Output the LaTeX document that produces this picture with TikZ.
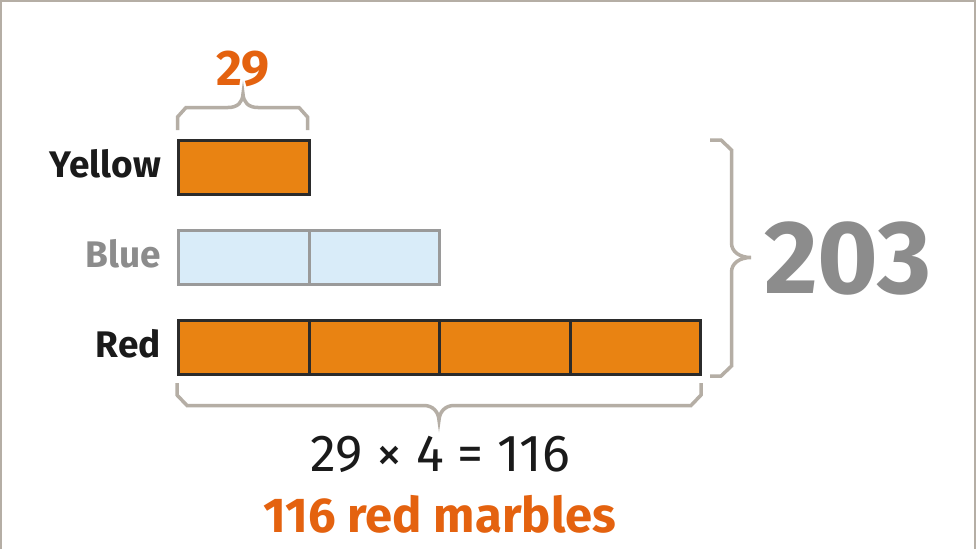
\documentclass[tikz,border=0pt]{standalone}
\usepackage{fontspec}
\setmainfont{Fira Sans}
\definecolor{frame}{HTML}{B5AEA5}
\definecolor{boxorange}{HTML}{E98312}
\definecolor{txtorange}{HTML}{E4620F}
\definecolor{boxedge}{HTML}{2B2B2B}
\definecolor{bluefill}{HTML}{D9ECF9}
\definecolor{blueedge}{HTML}{9A9A9A}
\definecolor{labgray}{HTML}{8C8C8C}
\definecolor{txtblack}{HTML}{1A1A1A}
\tikzset{
  cell/.style={draw=boxedge, fill=boxorange, line width=3pt, minimum width=130.5pt, minimum height=54pt, inner sep=0pt, outer sep=0pt},
  bcell/.style={cell, draw=blueedge, fill=bluefill},
  brace/.style={draw=frame, line width=3.5pt, line join=miter, line cap=butt},
  lab/.style={font=\fontsize{37}{42}\selectfont\bfseries, text=txtblack, anchor=base east, inner sep=0pt},
}
\begin{document}
\begin{tikzpicture}[x=1pt, y=-1pt]
\useasboundingbox (0,0) rectangle (976,549);
\fill[white] (0,0) rectangle (976,549);
\draw[frame, line width=2.5pt] (0.5,549) -- (0.5,0.5) -- (975.5,0.5) -- (975.5,549);
% labels
\node[lab] (ly) at (161,177) {Yellow};
\node[lab, text=labgray] (lb) at (161,267) {Blue};
\node[lab] (lr) at (161,357) {Red};
% yellow bar
\node[cell] (y1) at (243.75,167) {};
% blue bar
\node[bcell] (b1) at (243.75,257) {};
\node[bcell] (b2) at (374.25,257) {};
% red bar
\node[cell] (r1) at (243.75,347.5) {};
\node[cell] (r2) at (374.25,347.5) {};
\node[cell] (r3) at (504.75,347.5) {};
\node[cell] (r4) at (635.25,347.5) {};
% top brace
\draw[brace] (177.5,130) -- (177.5,117) -- (186,107.5) -- (228,107.5)
  .. controls (238,107.5) and (242.5,102) .. (243,94)
  .. controls (243.5,102) and (248,107.5) .. (258,107.5)
  -- (299,107.5) -- (307.5,117) -- (307.5,130);
\node[font=\fontsize{50}{54}\selectfont\bfseries, text=txtorange, anchor=base, inner sep=0pt] (t29) at (243,85) {29};
% right brace
\draw[brace] (710,140) -- (721,140) -- (731.5,150) -- (731.5,243)
  .. controls (731.5,252) and (740,257.5) .. (751,257.5)
  .. controls (740,257.5) and (731.5,263) .. (731.5,272)
  -- (731.5,366) -- (721,376) -- (710,376);
\node[font=\fontsize{104}{108}\selectfont\bfseries, text=labgray, anchor=base west, inner sep=0pt] (t203) at (764,293) {203};
% bottom brace
\draw[brace] (177,383) -- (177,395) -- (187,405.5) -- (424,405.5)
  .. controls (433,405.5) and (438.5,412) .. (439,420)
  .. controls (439.5,412) and (445,405.5) .. (454,405.5)
  -- (691,405.5) -- (701,395) -- (701,383);
\node[font=\fontsize{52}{56}\selectfont, text=txtblack, anchor=base, inner sep=0pt] (eq) at (440,471) {29 × 4 = 116};
\node[font=\fontsize{49}{53}\selectfont\bfseries, text=txtorange, anchor=base, inner sep=0pt] (ans) at (440,532) {116 red marbles};
\end{tikzpicture}
\end{document}
